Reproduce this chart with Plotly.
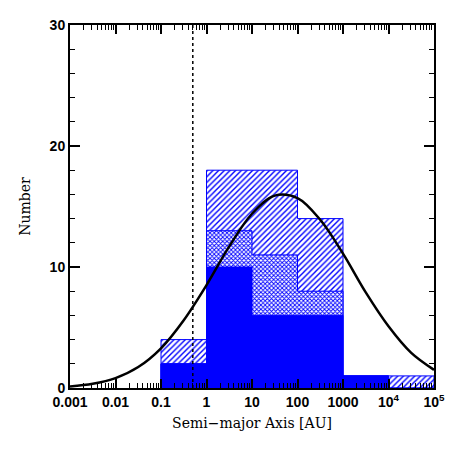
import plotly.graph_objects as go

# bin edges in AU (log spaced) and counts per bin
bin_edges = [0.1, 1, 10, 100, 1000, 1e4, 1e5]
n_total = [4, 18, 18, 14, 1, 1]      # single-hatched
n_middle = [2, 13, 11, 8, 1, 0]      # cross-hatched
n_solid = [2, 10, 6, 6, 1, 0]        # solid

# smooth model curve
curve_x = [0.001, 0.00316, 0.01, 0.0316, 0.1, 0.316, 1, 3.16, 10, 31.6, 100,
           316, 1000, 3162, 1e4, 31623, 1e5]
curve_y = [0.13, 0.35, 0.82, 1.73, 3.28, 5.6, 8.5, 11.7, 14.4, 15.9, 15.7,
           13.9, 11.1, 7.9, 5.1, 2.9, 1.5]

cut_x = [0.5, 0.5]
cut_y = [0, 30]

xtick_vals = [0.001, 0.01, 0.1, 1, 10, 100, 1000, 1e4, 1e5]
xtick_text = ['0.001', '0.01', '0.1', '1', '10', '100', '1000', '10<sup>4</sup>', '10<sup>5</sup>']

BLUE = '#0000ff'


def outline(edges, counts):
    xs, ys = [edges[0]], [0]
    for i, c in enumerate(counts):
        xs += [edges[i], edges[i + 1]]
        ys += [c, c]
    xs.append(edges[-1])
    ys.append(0)
    return xs, ys


fig = go.Figure()

x1, y1 = outline(bin_edges, n_total)
fig.add_trace(go.Scatter(x=x1, y=y1, mode='lines', fill='toself',
                         line=dict(color=BLUE, width=1),
                         fillcolor='white',
                         fillpattern=dict(shape='/', fgcolor=BLUE, bgcolor='white',
                                          size=4, solidity=0.35, fillmode='replace')))

x2, y2 = outline(bin_edges, n_middle)
fig.add_trace(go.Scatter(x=x2, y=y2, mode='lines', fill='toself',
                         line=dict(color=BLUE, width=1),
                         fillcolor='white',
                         fillpattern=dict(shape='x', fgcolor=BLUE, bgcolor='white',
                                          size=3, solidity=0.5, fillmode='replace')))

x3, y3 = outline(bin_edges, n_solid)
fig.add_trace(go.Scatter(x=x3, y=y3, mode='lines', fill='toself',
                         line=dict(color=BLUE, width=1), fillcolor=BLUE))

fig.add_trace(go.Scatter(x=curve_x, y=curve_y, mode='lines',
                         line=dict(color='black', width=2.5, shape='spline')))

fig.add_trace(go.Scatter(x=cut_x, y=cut_y, mode='lines',
                         line=dict(color='black', width=1.5, dash='dot')))

tickfont = dict(family='Liberation Sans, Arial', size=14, color='black', weight='bold')
titlefont = dict(family='DejaVu Serif, serif', size=14, color='black')

# page body has an 8px margin, so the figure is 450 px and margins are shifted
fig.update_layout(
    width=450, height=450,
    margin=dict(l=62, r=24, t=17, b=70),
    paper_bgcolor='white', plot_bgcolor='white',
    showlegend=False,
    xaxis=dict(type='log', range=[-3, 5], showgrid=False, zeroline=False,
               automargin=False,
               showline=True, linecolor='black', linewidth=2, mirror='allticks',
               ticks='inside', ticklen=9, tickwidth=1.5, tickcolor='black',
               tickvals=xtick_vals, ticktext=xtick_text, tickfont=tickfont,
               minor=dict(ticks='inside', ticklen=5, tickwidth=1, tickcolor='black',
                          dtick='D1', showgrid=False),
               title=dict(text='Semi\u2212major Axis [AU]', font=titlefont, standoff=9)),
    yaxis=dict(range=[0, 30], showgrid=False, zeroline=False,
               automargin=False,
               showline=True, linecolor='black', linewidth=2, mirror='allticks',
               ticks='inside', ticklen=10, tickwidth=1.5, tickcolor='black',
               dtick=10, tickfont=tickfont,
               minor=dict(ticks='inside', ticklen=5, tickwidth=1, tickcolor='black',
                          dtick=2, showgrid=False),
               title=dict(text='Number', font=titlefont, standoff=16)),
)

fig.write_html('out.html')
